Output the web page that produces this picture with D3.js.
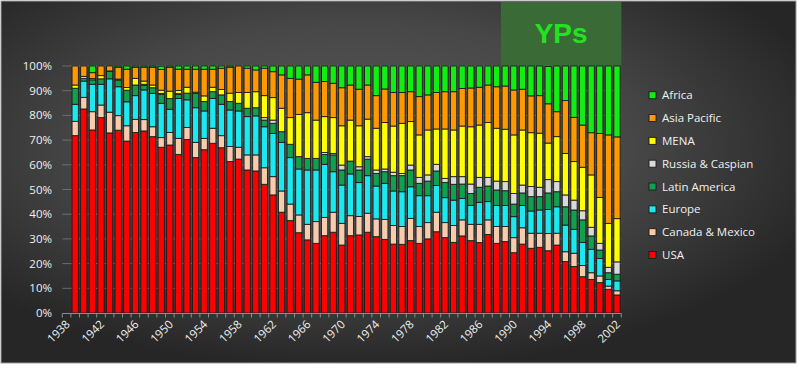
<!DOCTYPE html>
<html><head><meta charset="utf-8">
<script src="https://cdn.jsdelivr.net/npm/d3@7"></script>
<style>html,body{margin:0;padding:0;background:#fff;}svg{display:block;}</style>
</head><body>
<script>
const years = [1938,1939,1940,1941,1942,1943,1944,1945,1946,1947,1948,1949,1950,1951,1952,1953,1954,1955,1956,1957,1958,1959,1960,1961,1962,1963,1964,1965,1966,1967,1968,1969,1970,1971,1972,1973,1974,1975,1976,1977,1978,1979,1980,1981,1982,1983,1984,1985,1986,1987,1988,1989,1990,1991,1992,1993,1994,1995,1996,1997,1998,1999,2000,2001,2002];
const tickYears = [1938,1942,1946,1950,1954,1958,1962,1966,1970,1974,1978,1982,1986,1990,1994,1998,2002];
const yTicks = [0,10,20,30,40,50,60,70,80,90,100];
const seriesNames = ["USA","Canada & Mexico","Europe","Latin America","Russia & Caspian","MENA","Asia Pacific","Africa"];
const seriesColors = ["#ff0000","#f8cbad","#1ce8f0","#10a050","#d9d9d9","#ffff00","#ff9900","#11ee11"];
const usa = [null,71.8,82.6,74.1,79.1,72.9,74.0,69.6,73.1,73.7,71.4,67.1,68.0,64.2,70.2,62.9,66.1,68.7,66.9,61.3,62.3,57.9,57.5,52.1,47.8,40.8,37.4,32.5,29.6,28.2,31.3,32.7,27.5,31.3,31.6,32.7,30.9,29.8,27.9,27.8,29.3,28.2,30.0,32.9,30.5,28.6,31.2,29.3,28.5,31.8,28.2,28.9,24.4,27.9,26.2,26.6,25.2,27.5,20.8,18.8,14.7,13.6,12.3,9.6,7.3];
const canMex = [null,5.8,4.7,7.4,5.1,8.4,5.9,6.2,5.3,4.6,4.0,3.9,5.1,6.5,4.9,6.2,4.6,6.1,4.9,6.1,4.8,6.1,6.5,6.7,7.4,8.6,6.7,7.2,6.3,8.8,7.4,8.1,8.8,8.1,7.5,7.7,7.2,8.1,7.5,7.2,9.0,6.8,6.6,7.9,6.1,6.8,6.5,6.6,7.4,5.9,6.8,6.1,6.1,6.6,6.1,5.7,7.0,4.8,4.0,5.4,4.5,2.7,2.7,1.3,1.7];
const europe = [null,6.9,6.6,11.1,8.4,13.5,11.7,9.7,9.6,12.0,13.5,13.9,9.4,16.2,11.2,14.0,11.1,12.1,12.7,14.8,14.7,15.5,15.8,16.6,17.5,19.7,18.8,18.6,22.0,20.9,21.5,16.4,15.5,16.9,13.7,15.2,13.3,14.6,14.0,14.1,12.8,12.5,10.9,10.8,10.1,10.3,8.7,7.6,8.9,7.4,8.5,8.5,8.5,9.0,9.0,9.4,9.7,10.7,10.8,9.7,9.4,9.5,7.1,2.7,4.0];
const latAm = [null,6.5,1.1,1.8,2.2,3.0,2.7,4.7,4.3,1.8,2.3,3.6,4.3,1.6,2.7,5.8,3.8,2.7,3.8,3.4,3.1,3.4,3.3,2.7,4.1,4.3,5.4,5.0,4.7,4.7,4.0,6.8,6.1,5.2,5.1,6.7,5.1,4.7,6.2,6.5,6.8,5.0,5.9,5.9,6.1,6.4,5.8,4.9,6.1,6.3,6.3,6.0,5.1,5.1,5.8,5.4,6.7,6.1,7.4,7.8,9.1,5.4,3.4,2.7,2.7];
const russia = [null,0,0,0,0,0,0,0,0,0.5,0,0.4,0,0.3,0,0,0,0,0,0,0,0,0,1.0,1.3,0,0,0,0,0,0.8,0.6,2.0,0,1.3,1.0,1.4,1.1,1.4,0.9,2.0,2.4,2.5,2.7,1.7,3.1,3.0,3.8,4.0,3.5,3.6,3.7,4.3,3.2,4.1,3.8,5.4,4.1,4.8,4.0,3.7,3.5,2.7,2.2,5.0];
const mena = [null,1.3,0.8,0.5,1.3,0.2,0.4,1.1,2.7,1.3,1.1,1.3,3.0,1.3,2.4,0.5,2.3,1.8,2.2,3.4,4.4,6.4,6.5,8.9,9.1,9.5,10.8,17.1,18.5,15.5,14.5,14.5,15.9,16.6,16.6,15.2,16.9,18.8,18.7,20.3,17.6,17.2,18.2,14.3,20.0,18.9,20.5,23.2,21.2,22.2,21.4,21.2,23.7,22.3,21.8,21.9,14.8,18.2,16.8,15.6,17.6,21.2,18.6,17.8,17.5];
const asiaPac = [null,7.7,4.2,2.4,3.9,2.0,4.8,7.4,4.5,5.6,7.2,8.4,9.7,8.6,7.3,9.3,10.8,7.3,8.6,10.5,10.7,9.8,8.8,11.1,10.5,13.5,15.9,14.3,15.3,15.3,14.2,13.9,15.4,14.2,14.8,13.8,13.2,13.6,13.6,12.5,12.1,15.5,14.2,14.8,15.1,15.5,15.2,15.7,15.3,15.2,16.8,17.5,18.2,16.5,14.9,15.2,15.9,10.1,21.4,17.9,17.1,17.1,25.9,35.8,33.1];
const africa = [null,0,0,2.7,0,0,0.5,1.3,0.5,0.5,0.5,1.3,0.5,1.3,1.3,1.3,1.3,1.3,0.9,0.5,0,0.9,1.6,0.9,2.3,3.6,5.0,5.3,3.6,6.6,6.3,7.0,8.8,7.7,9.4,7.7,12.0,9.3,10.7,10.7,10.4,12.4,11.7,10.7,10.4,10.4,9.1,8.9,8.6,7.7,8.4,8.1,9.7,9.4,12.1,12.0,15.1,18.5,14.0,20.8,23.9,27.0,27.3,27.9,28.7];
const seriesData = [usa, canMex, europe, latAm, russia, mena, asiaPac, africa];
const highlightStart = 1989, highlightEnd = 2002, highlightLabel = "YPs";

const W = 800, H = 370;
const svg = d3.select("body").append("svg").attr("width", W).attr("height", H);
const defs = svg.append("defs");
const grad = defs.append("radialGradient").attr("id","bg").attr("cx","45%").attr("cy","40%").attr("r","62%");
grad.append("stop").attr("offset","0%").attr("stop-color","#5a5a5a");
grad.append("stop").attr("offset","55%").attr("stop-color","#474747");
grad.append("stop").attr("offset","100%").attr("stop-color","#262626");
svg.append("rect").attr("x",1).attr("y",1).attr("width",795).attr("height",362)
  .attr("fill","url(#bg)").attr("stroke","#9a9a9a").attr("stroke-width",1);

const x = d3.scaleBand().domain(years).range([62.3, 621.3]).paddingInner(0.27).paddingOuter(0.135);
const y = d3.scaleLinear().domain([0,100]).range([313, 66]);

// highlight box
const hx0 = x(highlightStart) - x.step()*x.paddingInner()/2;
const hx1 = x(highlightEnd) + x.bandwidth() + x.step()*x.paddingInner()/2;
svg.append("rect").attr("x", hx0).attr("y", 2).attr("width", hx1 - hx0)
  .attr("height", y(100) - 3).attr("fill", "#3a6a36");
svg.append("text").attr("x", (hx0 + hx1)/2).attr("y", 43)
  .attr("text-anchor","middle").attr("font-family","'Liberation Sans', Arial, sans-serif")
  .attr("font-weight","bold").attr("font-size", 28).attr("fill","#22e322").text(highlightLabel);

// gridlines
svg.append("g").selectAll("line").data(yTicks.filter(d=>d>0)).join("line")
  .attr("x1", 62.3).attr("x2", 621.3).attr("y1", d=>y(d)).attr("y2", d=>y(d))
  .attr("stroke","#7a7a7a").attr("stroke-width",0.8);

// stacked bars
const rows = years.map((yr,i)=>{ const o={year:yr}; seriesNames.forEach((n,k)=>o[n]=seriesData[k][i]); return o; });
const stack = d3.stack().keys(seriesNames).value((d,k)=> d[k] == null ? 0 : d[k]);
const stacked = stack(rows);
const gBars = svg.append("g");
stacked.forEach((layer,k)=>{
  gBars.append("g").attr("fill", seriesColors[k]).selectAll("rect")
    .data(layer.filter(d=>d.data[seriesNames[k]] != null && d[1]-d[0] > 0)).join("rect")
    .attr("x", d=>x(d.data.year)).attr("width", x.bandwidth())
    .attr("y", d=>y(d[1])).attr("height", d=>y(d[0]) - y(d[1]))
    .attr("stroke","#1c1c1c").attr("stroke-width",0.9);
});

// x axis
const xAxis = svg.append("g");
xAxis.append("line").attr("x1",62.3).attr("x2",621.3).attr("y1",313.5).attr("y2",313.5).attr("stroke","#8c8c8c").attr("stroke-width",1.2);
const boundaries = years.map(yr => x(yr) - x.step()*x.paddingInner()/2).concat([621.3]);
xAxis.selectAll("line.tk").data(boundaries).join("line").attr("class","tk")
  .attr("x1",d=>d).attr("x2",d=>d).attr("y1",313.5).attr("y2",317.5).attr("stroke","#8c8c8c").attr("stroke-width",1);
xAxis.selectAll("text").data(tickYears).join("text")
  .attr("transform", d=>`translate(${x(d)+x.bandwidth()/2+4},325) rotate(-45)`)
  .attr("text-anchor","end").attr("font-family","'Open Sans', sans-serif").attr("font-size",11.5)
  .attr("fill","#f0f0f0").text(d=>d);

// y axis labels
svg.append("g").selectAll("text").data(yTicks).join("text")
  .attr("x", 52).attr("y", d=>y(d)+4).attr("text-anchor","end")
  .attr("font-family","'Open Sans', sans-serif").attr("font-size",11.5).attr("fill","#f0f0f0")
  .text(d=>d+"%");

// legend (reverse order: Africa on top)
const legendOrder = seriesNames.map((n,k)=>k).reverse();
const lg = svg.append("g").selectAll("g").data(legendOrder).join("g")
  .attr("transform",(d,i)=>`translate(649,${95.2 + i*22.83})`);
lg.append("rect").attr("x",0).attr("y",-3.5).attr("width",7).attr("height",7)
  .attr("fill",d=>seriesColors[d]).attr("stroke","#1c1c1c").attr("stroke-width",0.9);
lg.append("text").attr("x",13).attr("y",4).attr("font-family","'Open Sans', sans-serif").attr("font-size",11.5)
  .attr("fill","#f0f0f0").text(d=>seriesNames[d]);
</script>
</body></html>
